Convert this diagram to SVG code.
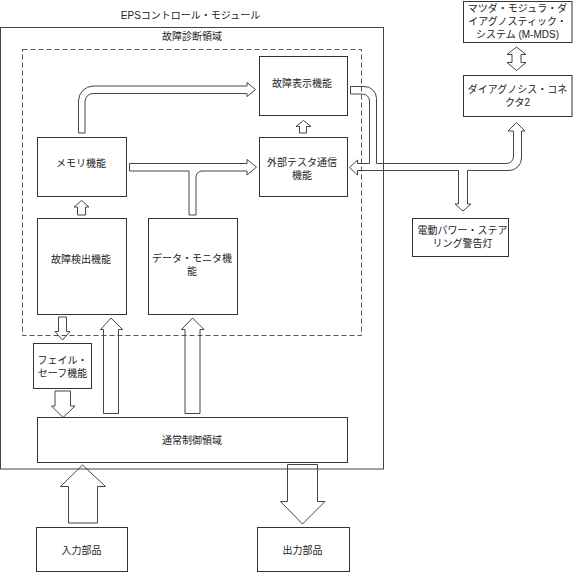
<svg xmlns="http://www.w3.org/2000/svg" width="573" height="572" viewBox="0 0 573 572">
<style>
.box{fill:#fff;stroke:#333;stroke-width:1}
.frame{fill:none;stroke:#444;stroke-width:1}
.dash{fill:none;stroke:#555;stroke-width:1;stroke-dasharray:5 3}
.arr{fill:none;stroke:#444;stroke-width:1;stroke-linejoin:miter}
text{font-family:"Liberation Sans","Noto Sans CJK JP",sans-serif;font-size:10px;fill:#222;text-anchor:middle;dominant-baseline:central}
</style>
<rect width="573" height="572" fill="#fff"/>
<g id="eps-module">
<rect class="frame" x="0.5" y="27.5" width="383" height="441.5"/>
<text x="190.5" y="15">EPSコントロール・モジュール</text>
</g>
<g id="diag-area">
<rect class="dash" x="22.5" y="49.5" width="339" height="286"/>
<text x="192" y="36">故障診断領域</text>
</g>
<g id="fault-display"><rect class="box" x="259.5" y="56.5" width="88" height="59"/><text x="302" y="83">故障表示機能</text></g>
<g id="ext-tester"><rect class="box" x="259.5" y="137.5" width="88" height="59"/><text x="302" y="162.5">外部テスタ通信</text><text x="302" y="175.5">機能</text></g>
<g id="memory"><rect class="box" x="37.5" y="137.5" width="89" height="59"/><text x="81" y="163">メモリ機能</text></g>
<g id="fault-detect"><rect class="box" x="37.5" y="218.5" width="89" height="96"/><text x="81" y="259">故障検出機能</text></g>
<g id="data-monitor"><rect class="box" x="148.5" y="218.5" width="89" height="96"/><text x="192" y="258.5">データ・モニタ機</text><text x="192" y="271.5">能</text></g>
<g id="fail-safe"><rect class="box" x="33.5" y="343.5" width="58" height="45"/><text x="62.5" y="360">フェイル・</text><text x="62.5" y="373">セーフ機能</text></g>
<g id="normal-ctrl"><rect class="box" x="37.5" y="417.5" width="310" height="45"/><text x="192" y="440.5">通常制御領域</text></g>
<g id="input"><rect class="box" x="36.5" y="527.5" width="91" height="44"/><text x="81.5" y="550">入力部品</text></g>
<g id="output"><rect class="box" x="257.5" y="527.5" width="92" height="44"/><text x="302.5" y="550">出力部品</text></g>
<g id="m-mds"><rect class="box" x="463.5" y="1.5" width="108.5" height="41"/><text x="517.5" y="8">マツダ・モジュラ・ダ</text><text x="517.5" y="21">イアグノスティック・</text><text x="517.5" y="34">システム (M-MDS)</text></g>
<g id="connector"><rect class="box" x="463.5" y="75.5" width="108.5" height="41"/><text x="517.5" y="89">ダイアグノシス・コネ</text><text x="517.5" y="102">クタ2</text></g>
<g id="eps-lamp"><rect class="box" x="412.5" y="218.5" width="96" height="38"/><text x="462.5" y="230.5">電動パワー・ステア</text><text x="462.5" y="243.5">リング警告灯</text></g>
<g id="connectors">
<path class="arr" d="M516.5,47 L526,54.5 L521,54.5 L521,62.5 L526,62.5 L516.5,70.5 L507,62.5 L512,62.5 L512,54.5 L507,54.5 Z"/>
<path class="arr" d="M349.5,167.5 L357.5,160 L357.5,163.5 L369.5,163.5 L369.5,101 A7,7 0 0 0 362.5,94 L350.5,94 L350.5,86.5 L364,86.5 A12,12 0 0 1 376.5,98.5 L376.5,163.5 L506,163.5 A7,7 0 0 0 513.5,156 L513.5,131 L508,131 L516.5,122.5 L525,131 L521.5,131 L521.5,158 A12.5,12.5 0 0 1 509,170.5 L467.5,170.5 L467.5,204 L471,204 L463,211 L455,204 L458.5,204 L458.5,170.5 L357.5,170.5 L357.5,175 Z"/>
<path class="arr" d="M78.5,133 L78.5,101 A15,15 0 0 1 93.5,86 L247,86 L247,82.5 L255.5,89.5 L247,96.5 L247,93.5 L93,93.5 A8,8 0 0 0 85,101.5 L85,133 Z"/>
<path class="arr" d="M129.5,163.5 L247,163.5 L247,159.5 L256.5,167 L247,175 L247,171 L202,171 A6,6 0 0 0 196,177 L196,215 L189,215 L189,171 L129.5,171 Z"/>
<path class="arr" d="M81.5,200.5 L89,207 L85.5,207 L85.5,215 L77.5,215 L77.5,207 L74,207 Z"/>
<path class="arr" d="M303.5,120.5 L311,126.5 L306.5,126.5 L306.5,133 L299.5,133 L299.5,126.5 L296,126.5 Z"/>
<path class="arr" d="M58.5,317 L66.5,317 L66.5,331.5 L70,331.5 L62.5,340 L55,331.5 L58.5,331.5 Z"/>
<path class="arr" d="M111,318 L122.5,329.5 L118.5,329.5 L118.5,413.5 L103.5,413.5 L103.5,329.5 L100.5,329.5 Z"/>
<path class="arr" d="M192.5,318 L204,329.5 L200,329.5 L200,413.5 L185,413.5 L185,329.5 L181.5,329.5 Z"/>
<path class="arr" d="M55,391 L70.5,391 L70.5,406 L75,406 L63,417.5 L51.5,406 L55,406 Z"/>
<path class="arr" d="M82.5,465 L105.5,486.5 L97.5,486.5 L97.5,523 L68.5,523 L68.5,486.5 L60.5,486.5 Z"/>
<path class="arr" d="M287.5,464.5 L317.5,464.5 L317.5,501.5 L325,501.5 L302.5,524 L280.5,501.5 L287.5,501.5 Z"/>
</g>
</svg>
